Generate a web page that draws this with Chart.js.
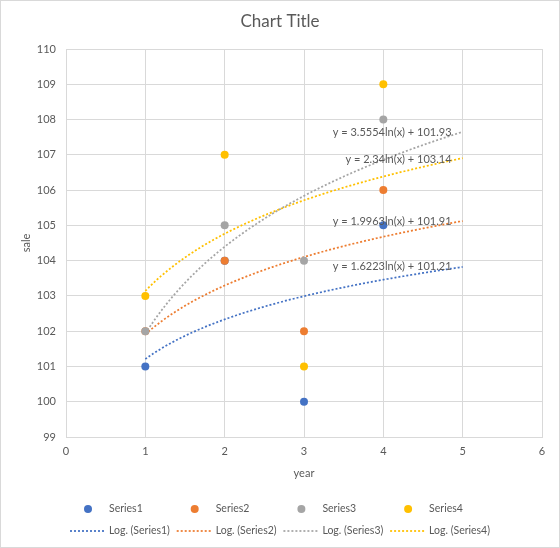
<!DOCTYPE html>
<html>
<head>
<meta charset="utf-8">
<script src="https://cdn.jsdelivr.net/npm/chart.js@4.4.1/dist/chart.umd.min.js"></script>
<style>
  html, body { margin: 0; padding: 0; background: #fff; }
  #wrap { position: relative; width: 560px; height: 548px; }
</style>
</head>
<body>
<div id="wrap"><canvas id="chart"></canvas></div>
<script>
// --- data ---
const seriesNames = ["Series1", "Series2", "Series3", "Series4"]
const years = [1, 2, 3, 4]
const series1 = [101, 104, 100, 105]
const series2 = [102, 104, 102, 106]
const series3 = [102, 105, 104, 108]
const series4 = [103, 107, 101, 109]
// log trendlines as printed on the chart: y = a*ln(x) + b
const trendA = [1.6223, 1.9963, 3.5554, 2.34]
const trendB = [101.21, 101.91, 101.93, 103.14]
const trendFrom = 1, trendTo = 5   // forward forecast to 5

const colors = ["#4472C4", "#ED7D31", "#A5A5A5", "#FFC000"]
const FONT = "Lato, 'Open Sans', 'DejaVu Sans', sans-serif"
const TXT = "#595959"

const allSeries = [series1, series2, series3, series4]

// sample the printed trendline equation across the x range
function trendPoints(a, b) {
  const pts = []
  const steps = 80
  for (let i = 0; i <= steps; i++) {
    const x = trendFrom + (trendTo - trendFrom) * i / steps
    pts.push({ x, y: a * Math.log(x) + b })
  }
  return pts
}

const datasets = []
allSeries.forEach((vals, i) => {
  datasets.push({
    label: seriesNames[i],
    data: years.map((x, j) => ({ x, y: vals[j] })),
    backgroundColor: colors[i], borderColor: colors[i],
    pointRadius: 4, pointHoverRadius: 4, borderWidth: 0,
    showLine: false,
    order: 4 - i  // later series on top, like excel
  })
})
allSeries.forEach((vals, i) => {
  datasets.push({
    label: `Log. (${seriesNames[i]})`,
    data: trendPoints(trendA[i], trendB[i]),
    borderColor: colors[i], backgroundColor: colors[i],
    borderWidth: 1.75, borderDash: [2, 2],
    pointRadius: 0, showLine: true, tension: 0,
    order: 10
  })
})

const chrome = {
  id: "chrome",
  beforeDraw(chart) {
    const ctx = chart.ctx
    ctx.save()
    ctx.fillStyle = "#fff"
    ctx.fillRect(0, 0, chart.width, chart.height)
    ctx.strokeStyle = "#d9d9d9"
    ctx.lineWidth = 1
    ctx.strokeRect(0.5, 0.5, chart.width - 1, chart.height - 1)
    ctx.restore()
  },
  afterDatasetsDraw(chart, args, opts) {
    const ctx = chart.ctx
    const { x: sx, y: sy } = chart.scales
    ctx.save()
    // equation labels
    ctx.font = `11px ${FONT}`
    ctx.fillStyle = TXT
    ctx.textAlign = "right"
    ctx.textBaseline = "middle"
    opts.eqAnchors.forEach((p, i) => {
      const txt = `y = ${trendA[i]}ln(x) + ${trendB[i]}`
      ctx.fillText(txt, sx.getPixelForValue(p.x), sy.getPixelForValue(p.y))
    })
    ctx.restore()
  },
  afterDraw(chart, args, opts) {
    const ctx = chart.ctx
    ctx.save()
    // title
    ctx.fillStyle = TXT
    ctx.font = `17px ${FONT}`
    ctx.textAlign = "center"
    ctx.textBaseline = "middle"
    ctx.fillText("Chart Title", chart.width / 2, opts.titleY)

    // legend: row 1 markers, row 2 trendlines
    ctx.font = `10.5px ${FONT}`
    ctx.textAlign = "left"
    const n = seriesNames.length
    chart.data.datasets.forEach((ds, k) => {
      const col = k % n, row = Math.floor(k / n)
      const tx = opts.legendX + col * opts.legendStep
      const ty = opts.legendY[row]
      if (row === 0) {
        ctx.fillStyle = ds.backgroundColor
        ctx.beginPath()
        ctx.arc(tx - 21, ty, 4, 0, Math.PI * 2)
        ctx.fill()
      } else {
        ctx.strokeStyle = ds.borderColor
        ctx.lineWidth = 1.75
        ctx.setLineDash([2, 2])
        ctx.beginPath()
        ctx.moveTo(tx - 39, ty)
        ctx.lineTo(tx - 5, ty)
        ctx.stroke()
        ctx.setLineDash([])
      }
      ctx.fillStyle = TXT
      ctx.fillText(ds.label, tx, ty)
    })
    ctx.restore()
  }
}

new Chart(document.getElementById("chart").getContext("2d"), {
  type: "scatter",
  data: { datasets },
  plugins: [chrome],
  options: {
    responsive: true,
    maintainAspectRatio: false,
    animation: false,
    layout: { padding: { left: 0, right: 18, top: 49, bottom: 61 } },
    scales: {
      x: {
        type: "linear", min: 0, max: 6,
        ticks: { stepSize: 1, padding: 8, color: TXT, font: { family: FONT, size: 11 } },
        grid: { color: "#d9d9d9", drawTicks: false },
        border: { color: "#d9d9d9" },
        title: { display: true, text: "year", color: TXT, font: { family: FONT, size: 11 }, padding: { top: 0, bottom: 7 } },
        afterFit(s) { s.height = 50 }
      },
      y: {
        type: "linear", min: 99, max: 110,
        ticks: { stepSize: 1, padding: 10, color: TXT, font: { family: FONT, size: 11 } },
        grid: { color: "#d9d9d9", drawTicks: false },
        border: { color: "#d9d9d9" },
        title: { display: true, text: "sale", color: TXT, font: { family: FONT, size: 11 }, padding: { top: 20, bottom: 0 } },
        afterFit(s) { s.width = 66 }
      }
    },
    plugins: {
      legend: { display: false },
      title: { display: false },
      tooltip: { enabled: false },
      chrome: {
        titleY: 22,
        legendX: 109, legendStep: 106.7, legendY: [509, 531],
        eqAnchors: [
          { x: 4.86, y: 103.83 },
          { x: 4.86, y: 105.10 },
          { x: 4.86, y: 107.63 },
          { x: 4.86, y: 106.87 }
        ]
      }
    }
  }
})
</script>
</body>
</html>
